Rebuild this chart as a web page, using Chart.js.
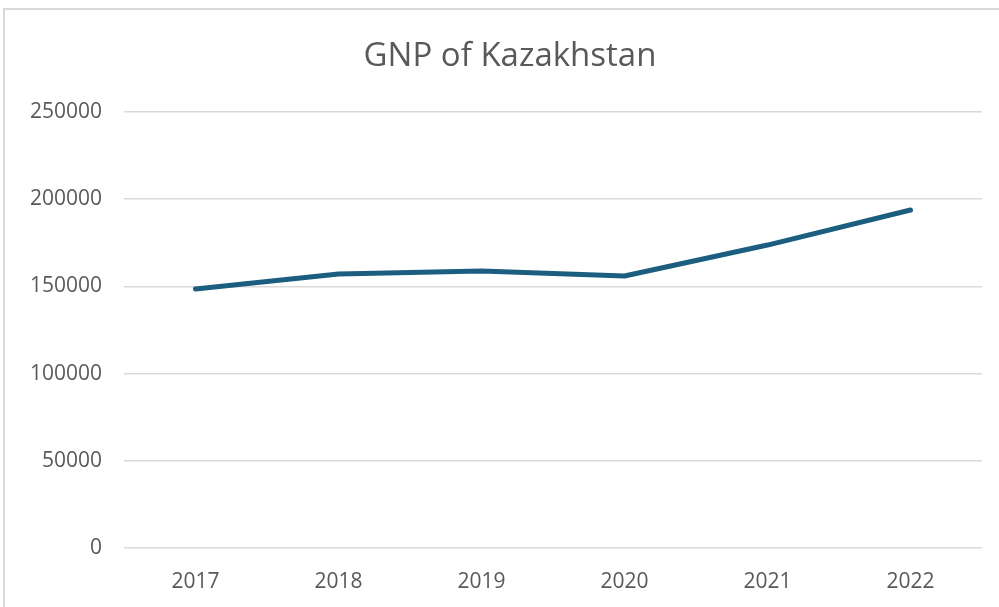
<!DOCTYPE html>
<html>
<head>
<meta charset="utf-8">
<script src="https://cdn.jsdelivr.net/npm/chart.js@4"></script>
<style>
  html, body { margin: 0; padding: 0; background: #fff; }
  #frame {
    position: absolute; left: 3px; top: 8px; width: 1010px; height: 620px;
    border: 2px solid #d9d9d9; box-sizing: border-box;
  }
  #wrap { position: absolute; left: 0; top: 0; width: 999px; height: 607px; }
</style>
</head>
<body>
<div id="frame"></div>
<div id="wrap"><canvas id="c" width="999" height="607"></canvas></div>
<script>
const years = ["2017", "2018", "2019", "2020", "2021", "2022"];
const gnp = [148500, 157100, 158800, 156000, 173700, 193800];

const ctx = document.getElementById("c").getContext("2d");

// nudge the title box so its centre sits where the original has it
const titleShift = {
  id: "titleShift",
  afterLayout(chart) {
    if (chart.titleBlock) chart.titleBlock.left = 38;
  },
};

new Chart(ctx, {
  type: "line",
  data: {
    labels: years,
    datasets: [
      {
        label: "GNP",
        data: gnp,
        borderColor: "#1b5e80",
        borderWidth: 5,
        pointRadius: 0,
        borderCapStyle: "round",
        borderJoinStyle: "round",
        tension: 0,
      },
    ],
  },
  options: {
    responsive: false,
    animation: false,
    layout: { padding: { left: 0, right: 17, top: 0, bottom: 0 } },
    plugins: {
      legend: { display: false },
      tooltip: { enabled: false },
      title: {
        display: true,
        text: "GNP of Kazakhstan",
        color: "#595959",
        font: { family: "Open Sans", size: 33, weight: "normal" },
        padding: { top: 37, bottom: 35.4 },
      },
    },
    scales: {
      x: {
        offset: true,
        grid: { display: false },
        border: { display: false },
        ticks: {
          color: "#595959",
          font: { family: "Open Sans", size: 21 },
          padding: 13,
          maxRotation: 0,
        },
        afterFit: (scale) => { scale.height = 59; },
      },
      y: {
        min: 0,
        max: 250000,
        grid: { color: "#d9d9d9", lineWidth: 1.5, drawTicks: false },
        border: { display: false },
        ticks: {
          stepSize: 50000,
          color: "#595959",
          font: { family: "Open Sans", size: 21 },
          padding: 22,
          callback: (v) => String(v),
        },
        afterFit: (scale) => { scale.width = 124; },
      },
    },
  },
  plugins: [titleShift],
});
</script>
</body>
</html>
